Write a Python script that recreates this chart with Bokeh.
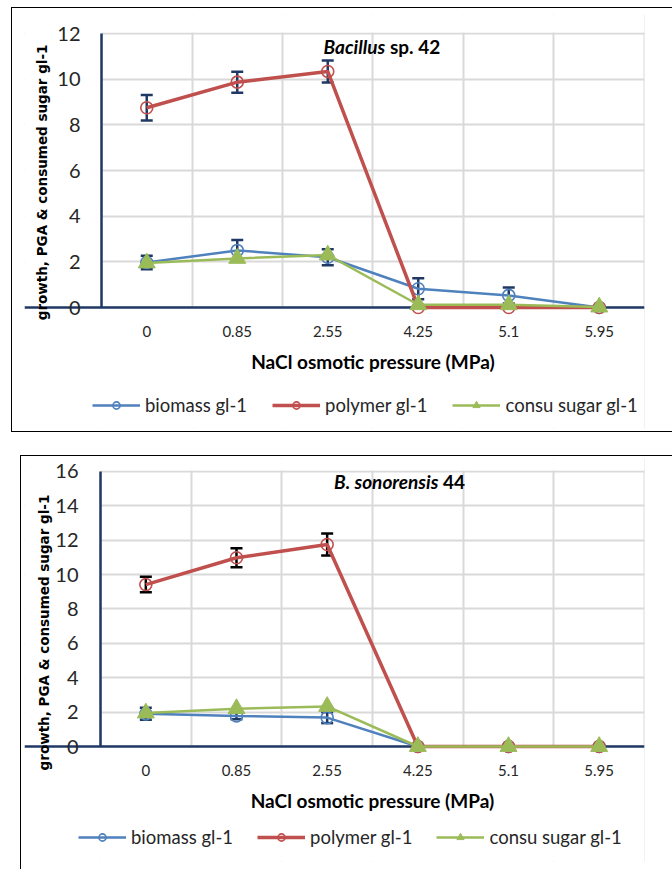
from bokeh.plotting import figure
from bokeh.models import (ColumnDataSource, FixedTicker, Whisker, TeeHead, Legend,
                          LegendItem, Label, LabelSet)
from bokeh.layouts import column
from bokeh.embed import file_html
from bokeh.resources import INLINE
from bokeh.core.properties import value
import math

# ---------------- data ----------------
pressures = ["0", "0.85", "2.55", "4.25", "5.1", "5.95"]
series_names = ["biomass gl-1", "polymer gl-1", "consu sugar gl-1"]
x_title = "NaCl osmotic pressure (MPa)"
y_title = "growth, PGA & consumed sugar gl-1"

b42_biomass = [1.97, 2.50, 2.20, 0.82, 0.53, 0.0]
b42_biomass_err = [0.30, 0.46, 0.35, 0.46, 0.35, 0.0]
b42_polymer = [8.75, 9.87, 10.34, 0.0, 0.0, 0.0]
b42_polymer_err = [0.56, 0.46, 0.48, 0.0, 0.0, 0.0]
b42_sugar = [1.95, 2.15, 2.30, 0.12, 0.12, 0.02]

b44_biomass = [1.90, 1.78, 1.68, 0.0, 0.0, 0.0]
b44_biomass_err = [0.35, 0.20, 0.32, 0.0, 0.0, 0.0]
b44_polymer = [9.42, 10.98, 11.75, 0.0, 0.0, 0.0]
b44_polymer_err = [0.45, 0.55, 0.64, 0.0, 0.0, 0.0]
b44_sugar = [1.95, 2.20, 2.33, 0.0, 0.0, 0.0]

y_max_top = 12
y_max_bottom = 16

# ---------------- styles ----------------
BLUE = "#4F81BD"
RED = "#C0504D"
GREEN = "#9BBB59"
NAVY = "#1F3864"
BLACK = "#000000"
GRID = "#D9D9D9"
TEXT = "#262626"
FONT = "Lato"


def build(cfg):
    n = len(pressures)
    xs = list(range(n))
    ymax = cfg["ymax"]
    ppu = cfg["ppu"]            # pixels per y unit
    ppx = cfg["ppx"]            # pixels per category
    H = cfg["height"]
    ftop, fbot = cfg["frame_top"], cfg["frame_bottom"]   # canvas px
    fleft, axis_px = cfg["frame_left"], cfg["axis_px"]
    zero = cfg["zero_px"]                                 # canvas px of y = 0
    y_hi = (zero - ftop) / ppu
    y_lo = -(fbot - zero) / ppu
    x_axis = xs[0] - 0.5
    x_lo = x_axis - (axis_px - fleft) / ppx

    bl, bt, bh = cfg["border"]
    css = (":host { position: relative; } "
           ":host::after { content: ''; position: absolute; left: %dpx; top: %dpx; "
           "width: 900px; height: %dpx; border: 1.5px solid black; box-sizing: border-box; "
           "pointer-events: none; z-index: 10; }" % (bl, bt, bh))
    p = figure(width=672, height=H,
               x_range=(x_lo, xs[-1] + 0.5001), y_range=(y_lo, y_hi),
               output_backend="svg", toolbar_location=None,
               min_border_left=fleft, min_border_right=cfg["mright"],
               min_border_top=ftop, min_border_bottom=H - fbot,
               stylesheets=[css])
    p.outline_line_color = None
    p.background_fill_color = "white"
    p.border_fill_color = "white"

    yt = list(range(0, ymax + 1, 2))
    p.ygrid.ticker = FixedTicker(ticks=yt)
    p.xgrid.ticker = FixedTicker(ticks=[i - 0.5 for i in range(n + 1)])
    for g in (p.xgrid, p.ygrid):
        g.grid_line_color = GRID
        g.grid_line_width = 2
    p.xaxis.visible = False
    p.yaxis.visible = False

    # white strips hide grid outside the chart area, navy axis lines
    p.hstrip(y0=[y_lo], y1=[0], fill_color="white", line_color=None)
    p.hstrip(y0=[ymax + 1.0 / ppu], y1=[y_hi], fill_color="white", line_color=None)
    p.vstrip(x0=[x_lo], x1=[x_axis], fill_color="white", line_color=None)
    p.hspan(y=[0], line_color=NAVY, line_width=2.5)
    p.segment(x0=[x_axis], y0=[0], x1=[x_axis], y1=[ymax],
              line_color=NAVY, line_width=2.5)

    items = []
    whiskers = []
    for name, vals, errs, color, marker, lw, ecolor in cfg["series"]:
        src = ColumnDataSource(dict(x=xs, y=vals))
        lr = p.line("x", "y", source=src, line_color=color, line_width=lw)
        if marker == "circle":
            sr = p.scatter("x", "y", source=src, marker="circle", size=12,
                           fill_color=None, line_color=color, line_width=1.6)
        else:
            sr = p.scatter("x", "y", source=src, marker="triangle", size=17,
                           fill_color=color, line_color=color, line_width=1)
        items.append(LegendItem(label=name, renderers=[lr, sr]))
        if errs is not None:
            ex = [x for x, e in zip(xs, errs) if e > 0]
            eu = [v + e for v, e in zip(vals, errs) if e > 0]
            el = [v - e for v, e in zip(vals, errs) if e > 0]
            esrc = ColumnDataSource(dict(x=ex, upper=eu, lower=el))
            whiskers.append(Whisker(base="x", upper="upper", lower="lower", source=esrc,
                                    dimension="height", line_color=ecolor, line_width=2.5,
                                    upper_head=TeeHead(size=12, line_color=ecolor, line_width=2.5),
                                    lower_head=TeeHead(size=12, line_color=ecolor, line_width=2.5)))
    for w in whiskers:
        p.add_layout(w)

    # value labels of the y scale, left of the axis line
    ytick_src = ColumnDataSource(dict(x=[x_axis] * len(yt), y=yt, text=[str(v) for v in yt]))
    p.add_layout(LabelSet(x="x", y="y", text="text", source=ytick_src,
                          x_offset=-cfg["ylabel_gap"], text_font=value(FONT),
                          text_font_size=value("20px"), text_color=TEXT,
                          text_align="right", text_baseline="middle"))
    # category labels under the zero line
    tick_src = ColumnDataSource(dict(x=xs, y=[0] * n, text=pressures))
    p.add_layout(LabelSet(x="x", y="y", text="text", source=tick_src,
                          y_offset=-cfg["tick_dy"], text_font=value(FONT),
                          text_font_size=value("15px"),
                          text_color=TEXT, text_align="center", text_baseline="middle"))
    p.add_layout(Label(x=(xs[0] + xs[-1]) / 2, y=0, y_offset=-cfg["xtitle_dy"], text=x_title,
                       text_font=FONT, text_font_style="bold", text_font_size="19px",
                       text_color="black", text_align="center", text_baseline="middle"))
    # rotated y title
    p.add_layout(Label(x=x_axis, y=cfg["ytitle_y"], x_offset=-cfg["ytitle_dx"], text=y_title,
                       angle=math.pi / 2, text_font="DejaVu Sans", text_font_style="bold",
                       text_font_size="13.5px", text_color="black",
                       text_align="center", text_baseline="middle"))

    leg = Legend(items=items, orientation="horizontal", location=cfg["legend_loc"],
                 glyph_width=48, glyph_height=18, label_standoff=5, spacing=cfg["spacing"],
                 padding=0, margin=0, border_line_color=None, background_fill_alpha=0,
                 label_text_font=FONT, label_text_font_size="18.5px", label_text_color=TEXT)
    p.add_layout(leg)

    tx, ty = cfg["title_pos"]
    p.add_layout(Label(x=tx, y=ty, text=cfg["title_a"], text_font=FONT,
                       text_font_style="bold italic", text_font_size="19px",
                       text_align="right", text_baseline="middle", text_color="black"))
    p.add_layout(Label(x=tx, y=ty, text=cfg["title_b"], text_font=FONT,
                       text_font_style="bold", text_font_size="19px",
                       text_align="left", text_baseline="middle", text_color="black"))
    return p


top_cfg = dict(
    height=444, ymax=y_max_top, ppu=22.83, ppx=91.67, zero_px=307,
    frame_top=14, frame_bottom=428, frame_left=24, axis_px=102, mright=20,
    ylabel_gap=21, ytitle_dx=59.5, ytitle_y=5.48,
    tick_dy=24, xtitle_dy=54,
    series=[(series_names[0], b42_biomass, b42_biomass_err, BLUE, "circle", 2.5, NAVY),
            (series_names[1], b42_polymer, b42_polymer_err, RED, "circle", 3.5, NAVY),
            (series_names[2], b42_sugar, None, GREEN, "triangle", 2.5, NAVY)],
    legend_loc=(68, 12), spacing=25,
    title_a="Bacillus", title_b="\u00a0sp. 42", title_pos=(2.636, 11.43),
    border=(11, 7, 425),
)

bottom_cfg = dict(
    height=423, ymax=y_max_bottom, ppu=17.19, ppx=90.67, zero_px=302,
    frame_top=14, frame_bottom=417, frame_left=24, axis_px=100, mright=28,
    ylabel_gap=22, ytitle_dx=56, ytitle_y=6.63,
    tick_dy=24, xtitle_dy=54,
    series=[(series_names[0], b44_biomass, b44_biomass_err, BLUE, "circle", 2.5, NAVY),
            (series_names[1], b44_polymer, b44_polymer_err, RED, "circle", 3.5, BLACK),
            (series_names[2], b44_sugar, None, GREEN, "triangle", 2.5, NAVY)],
    legend_loc=(54, 13), spacing=24,
    title_a="B. sonorensis", title_b="\u00a044", title_pos=(3.227, 15.42),
    border=(20, 11, 600),
)

p1 = build(top_cfg)
p2 = build(bottom_cfg)
layout = column(p1, p2, spacing=0)

open("out.html", "w").write(file_html(layout, INLINE))
